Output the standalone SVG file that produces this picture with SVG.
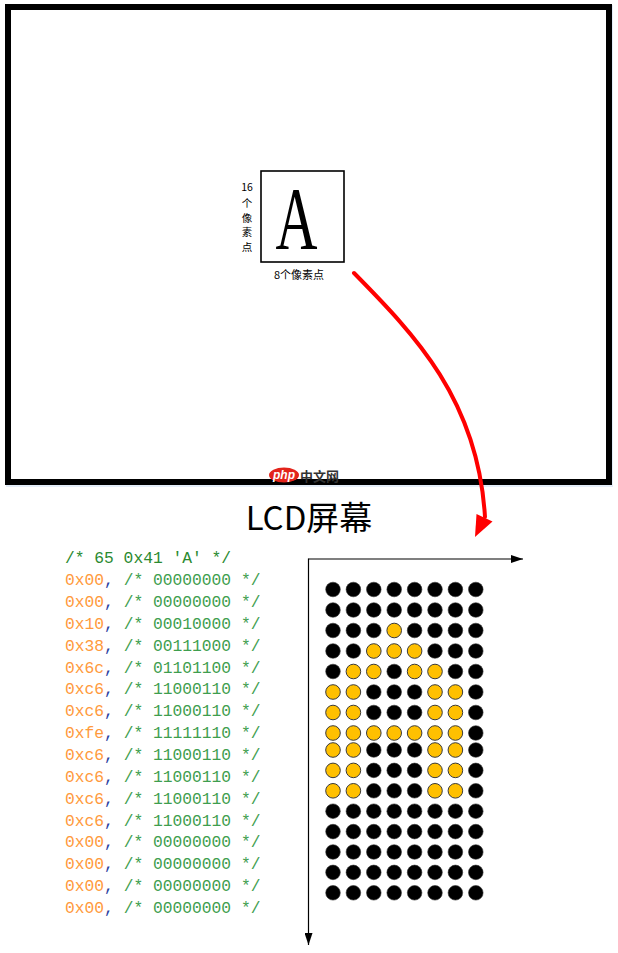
<svg xmlns="http://www.w3.org/2000/svg" width="618" height="953" viewBox="0 0 618 953">
<defs>
<style>
.cjk{font-family:"Noto Sans CJK SC","Noto Sans",sans-serif;fill:#000}
.code{font-family:"Liberation Mono","Courier New",monospace;font-size:16.3px}
.hex{fill:#ff9a3c}
.com{fill:#3e9e4e}
.cm{fill:#2d3fa0}
.hdr{fill:#2a8a30}
.b{fill:#000;stroke:#333;stroke-width:0.6}
.y{fill:#ffc000;stroke:#3a3a3a;stroke-width:1}
.ax{stroke:#000;stroke-width:1.2;fill:none}
</style>
<marker id="ah" viewBox="0 0 12 8" refX="12" refY="4" markerWidth="12" markerHeight="8" markerUnits="userSpaceOnUse" orient="auto">
<path d="M0,0 L12,4 L0,8 Z" fill="#000"/>
</marker>
<g id="B"><circle r="7.3" class="b"/></g>
<g id="Y"><circle r="7.3" class="y"/></g>
</defs>
<rect width="618" height="953" fill="#fff"/>

<g id="screen">
<rect x="9" y="8" width="601" height="476" fill="none" stroke="#e4edf8" stroke-width="6"/>
<rect x="8" y="7" width="601" height="475" fill="#fff" stroke="#000" stroke-width="6"/>
<g id="watermark">
<ellipse cx="284" cy="475" rx="15" ry="7.5" fill="#e3241b"/>
<text x="284" y="479" text-anchor="middle" font-family="Liberation Sans,sans-serif" font-style="italic" font-weight="bold" font-size="12" fill="#fff">php</text>
<text x="300" y="481" font-family="Noto Sans CJK SC,sans-serif" font-weight="bold" font-size="13" fill="#333">中文网</text>
</g>
</g>

<g id="char-box">
<rect x="261" y="171" width="83" height="91" fill="#fff" stroke="#000" stroke-width="1.6"/>
<text transform="translate(296.5,248) scale(0.66,1)" text-anchor="middle" font-family="Liberation Serif,serif" font-size="88" fill="#000">A</text>
</g>

<g id="label-height" class="cjk" font-size="10.5" text-anchor="middle">
<text x="247" y="191">16</text>
<text x="247" y="206.5">个</text>
<text x="247" y="221.5">像</text>
<text x="247" y="236">素</text>
<text x="247" y="250.5">点</text>
</g>
<g id="label-width">
<text class="cjk" x="299" y="279" font-size="11" text-anchor="middle">8个像素点</text>
</g>

<g id="title">
<text class="cjk" x="309" y="530" font-size="33" text-anchor="middle">LCD屏幕</text>
</g>

<g id="code" class="code">
<text x="65" y="563" class="hdr">/* 65 0x41 'A' */</text>
<text x="65" y="585"><tspan class="hex">0x00</tspan><tspan class="cm">,</tspan><tspan class="com"> /* 00000000 */</tspan></text>
<text x="65" y="606.9"><tspan class="hex">0x00</tspan><tspan class="cm">,</tspan><tspan class="com"> /* 00000000 */</tspan></text>
<text x="65" y="628.7"><tspan class="hex">0x10</tspan><tspan class="cm">,</tspan><tspan class="com"> /* 00010000 */</tspan></text>
<text x="65" y="650.6"><tspan class="hex">0x38</tspan><tspan class="cm">,</tspan><tspan class="com"> /* 00111000 */</tspan></text>
<text x="65" y="672.5"><tspan class="hex">0x6c</tspan><tspan class="cm">,</tspan><tspan class="com"> /* 01101100 */</tspan></text>
<text x="65" y="694.4"><tspan class="hex">0xc6</tspan><tspan class="cm">,</tspan><tspan class="com"> /* 11000110 */</tspan></text>
<text x="65" y="716.2"><tspan class="hex">0xc6</tspan><tspan class="cm">,</tspan><tspan class="com"> /* 11000110 */</tspan></text>
<text x="65" y="738.1"><tspan class="hex">0xfe</tspan><tspan class="cm">,</tspan><tspan class="com"> /* 11111110 */</tspan></text>
<text x="65" y="760"><tspan class="hex">0xc6</tspan><tspan class="cm">,</tspan><tspan class="com"> /* 11000110 */</tspan></text>
<text x="65" y="781.8"><tspan class="hex">0xc6</tspan><tspan class="cm">,</tspan><tspan class="com"> /* 11000110 */</tspan></text>
<text x="65" y="803.7"><tspan class="hex">0xc6</tspan><tspan class="cm">,</tspan><tspan class="com"> /* 11000110 */</tspan></text>
<text x="65" y="825.6"><tspan class="hex">0xc6</tspan><tspan class="cm">,</tspan><tspan class="com"> /* 11000110 */</tspan></text>
<text x="65" y="847.4"><tspan class="hex">0x00</tspan><tspan class="cm">,</tspan><tspan class="com"> /* 00000000 */</tspan></text>
<text x="65" y="869.3"><tspan class="hex">0x00</tspan><tspan class="cm">,</tspan><tspan class="com"> /* 00000000 */</tspan></text>
<text x="65" y="891.2"><tspan class="hex">0x00</tspan><tspan class="cm">,</tspan><tspan class="com"> /* 00000000 */</tspan></text>
<text x="65" y="913"><tspan class="hex">0x00</tspan><tspan class="cm">,</tspan><tspan class="com"> /* 00000000 */</tspan></text>
</g>

<g id="connectors">
<path d="M354,273 C415,335 478,400 485,517" fill="none" stroke="#ff0000" stroke-width="4" stroke-linecap="round"/>
<polygon points="475,537 476.5,514 492.5,521.5" fill="#ff0000"/>
<line x1="308.5" y1="559" x2="523" y2="559" class="ax" marker-end="url(#ah)"/>
<line x1="308.5" y1="558.4" x2="308.5" y2="945" class="ax" marker-end="url(#ah)"/>
</g>

<g id="dot-grid">
<g transform="translate(0,589.5)"><use href="#B" x="333"/><use href="#B" x="353.4"/><use href="#B" x="373.8"/><use href="#B" x="394.2"/><use href="#B" x="414.6"/><use href="#B" x="435"/><use href="#B" x="455.4"/><use href="#B" x="475.8"/></g>
<g transform="translate(0,610)"><use href="#B" x="333"/><use href="#B" x="353.4"/><use href="#B" x="373.8"/><use href="#B" x="394.2"/><use href="#B" x="414.6"/><use href="#B" x="435"/><use href="#B" x="455.4"/><use href="#B" x="475.8"/></g>
<g transform="translate(0,630.5)"><use href="#B" x="333"/><use href="#B" x="353.4"/><use href="#B" x="373.8"/><use href="#Y" x="394.2"/><use href="#B" x="414.6"/><use href="#B" x="435"/><use href="#B" x="455.4"/><use href="#B" x="475.8"/></g>
<g transform="translate(0,651)"><use href="#B" x="333"/><use href="#B" x="353.4"/><use href="#Y" x="373.8"/><use href="#Y" x="394.2"/><use href="#Y" x="414.6"/><use href="#B" x="435"/><use href="#B" x="455.4"/><use href="#B" x="475.8"/></g>
<g transform="translate(0,671.5)"><use href="#B" x="333"/><use href="#Y" x="353.4"/><use href="#Y" x="373.8"/><use href="#B" x="394.2"/><use href="#Y" x="414.6"/><use href="#Y" x="435"/><use href="#B" x="455.4"/><use href="#B" x="475.8"/></g>
<g transform="translate(0,692)"><use href="#Y" x="333"/><use href="#Y" x="353.4"/><use href="#B" x="373.8"/><use href="#B" x="394.2"/><use href="#B" x="414.6"/><use href="#Y" x="435"/><use href="#Y" x="455.4"/><use href="#B" x="475.8"/></g>
<g transform="translate(0,712.5)"><use href="#Y" x="333"/><use href="#Y" x="353.4"/><use href="#B" x="373.8"/><use href="#B" x="394.2"/><use href="#B" x="414.6"/><use href="#Y" x="435"/><use href="#Y" x="455.4"/><use href="#B" x="475.8"/></g>
<g transform="translate(0,733)"><use href="#Y" x="333"/><use href="#Y" x="353.4"/><use href="#Y" x="373.8"/><use href="#Y" x="394.2"/><use href="#Y" x="414.6"/><use href="#Y" x="435"/><use href="#Y" x="455.4"/><use href="#B" x="475.8"/></g>
<g transform="translate(0,750)"><use href="#Y" x="333"/><use href="#Y" x="353.4"/><use href="#B" x="373.8"/><use href="#B" x="394.2"/><use href="#B" x="414.6"/><use href="#Y" x="435"/><use href="#Y" x="455.4"/><use href="#B" x="475.8"/></g>
<g transform="translate(0,770.4)"><use href="#Y" x="333"/><use href="#Y" x="353.4"/><use href="#B" x="373.8"/><use href="#B" x="394.2"/><use href="#B" x="414.6"/><use href="#Y" x="435"/><use href="#Y" x="455.4"/><use href="#B" x="475.8"/></g>
<g transform="translate(0,790.8)"><use href="#Y" x="333"/><use href="#Y" x="353.4"/><use href="#B" x="373.8"/><use href="#B" x="394.2"/><use href="#B" x="414.6"/><use href="#Y" x="435"/><use href="#Y" x="455.4"/><use href="#B" x="475.8"/></g>
<g transform="translate(0,811.2)"><use href="#B" x="333"/><use href="#B" x="353.4"/><use href="#B" x="373.8"/><use href="#B" x="394.2"/><use href="#B" x="414.6"/><use href="#B" x="435"/><use href="#B" x="455.4"/><use href="#B" x="475.8"/></g>
<g transform="translate(0,831.6)"><use href="#B" x="333"/><use href="#B" x="353.4"/><use href="#B" x="373.8"/><use href="#B" x="394.2"/><use href="#B" x="414.6"/><use href="#B" x="435"/><use href="#B" x="455.4"/><use href="#B" x="475.8"/></g>
<g transform="translate(0,852)"><use href="#B" x="333"/><use href="#B" x="353.4"/><use href="#B" x="373.8"/><use href="#B" x="394.2"/><use href="#B" x="414.6"/><use href="#B" x="435"/><use href="#B" x="455.4"/><use href="#B" x="475.8"/></g>
<g transform="translate(0,872.4)"><use href="#B" x="333"/><use href="#B" x="353.4"/><use href="#B" x="373.8"/><use href="#B" x="394.2"/><use href="#B" x="414.6"/><use href="#B" x="435"/><use href="#B" x="455.4"/><use href="#B" x="475.8"/></g>
<g transform="translate(0,892.8)"><use href="#B" x="333"/><use href="#B" x="353.4"/><use href="#B" x="373.8"/><use href="#B" x="394.2"/><use href="#B" x="414.6"/><use href="#B" x="435"/><use href="#B" x="455.4"/><use href="#B" x="475.8"/></g>
</g>
</svg>
